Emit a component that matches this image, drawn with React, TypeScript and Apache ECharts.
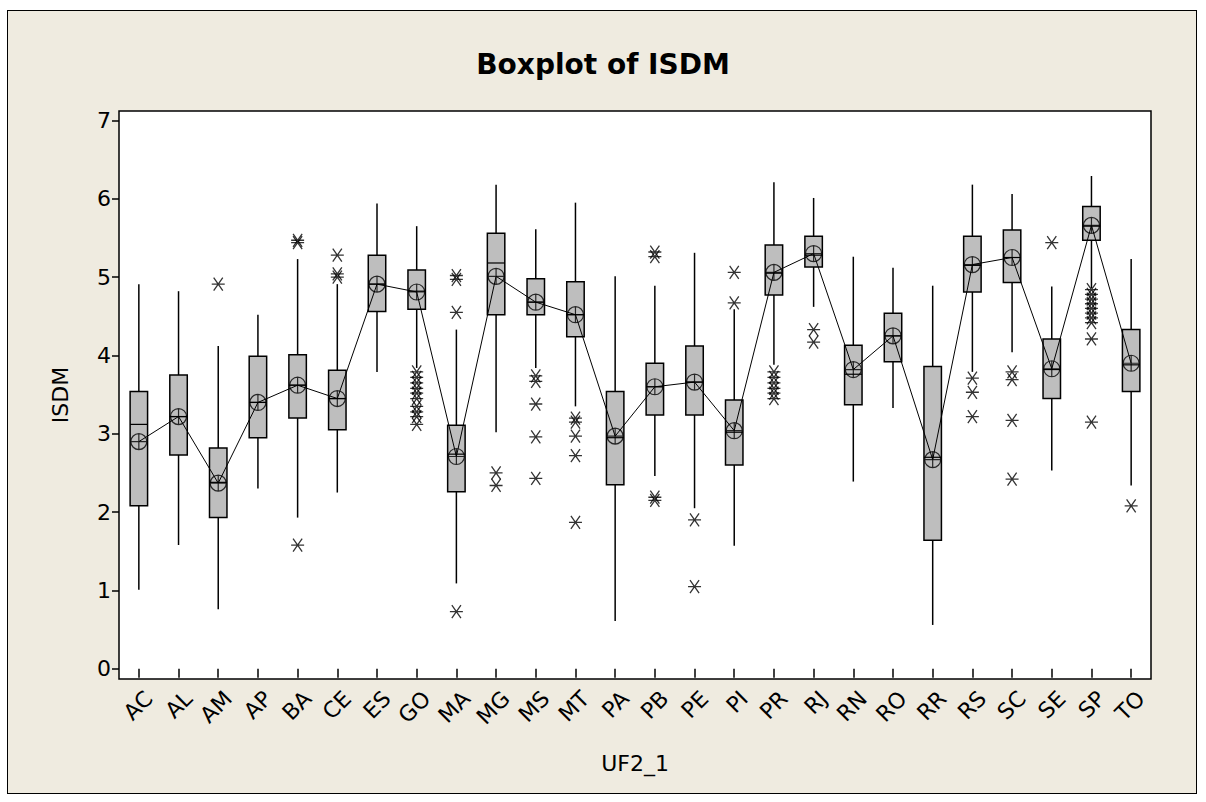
import React, { useEffect, useRef } from "react";
import * as echarts from "echarts";

const categories = ["AC","AL","AM","AP","BA","CE","ES","GO","MA","MG","MS","MT","PA","PB","PE","PI","PR","RJ","RN","RO","RR","RS","SC","SE","SP","TO"];
const whiskerLow = [1.01,1.58,0.76,2.30,1.93,2.25,3.79,3.84,1.09,3.02,3.84,3.35,0.61,2.46,2.05,1.57,3.88,4.62,2.39,3.33,0.56,3.79,4.04,2.53,4.86,2.34];
const q1 = [2.08,2.73,1.93,2.95,3.20,3.05,4.56,4.59,2.26,4.52,4.52,4.24,2.35,3.24,3.24,2.60,4.77,5.13,3.37,3.92,1.64,4.81,4.93,3.45,5.47,3.54];
const median = [3.12,3.22,2.38,3.40,3.62,3.45,4.91,4.82,2.74,5.18,4.68,4.52,2.95,3.60,3.66,3.02,5.05,5.28,3.76,4.25,2.70,5.15,5.25,3.82,5.65,3.88];
const q3 = [3.54,3.75,2.82,3.99,4.01,3.81,5.28,5.09,3.11,5.56,4.98,4.94,3.54,3.90,4.12,3.43,5.41,5.52,4.13,4.54,3.86,5.52,5.60,4.21,5.90,4.33];
const whiskerHigh = [4.91,4.82,4.12,4.52,5.23,4.91,5.94,5.65,4.33,6.18,5.61,5.95,5.01,4.89,5.31,4.59,6.21,6.01,5.26,5.12,4.89,6.18,6.06,4.88,6.29,5.23];
const means = [2.90,3.22,2.37,3.40,3.62,3.45,4.91,4.81,2.71,5.01,4.68,4.52,2.97,3.60,3.66,3.04,5.06,5.30,3.82,4.25,2.67,5.16,5.25,3.83,5.66,3.90];
const outliers: number[][] = [
  [],
  [],
  [4.91],
  [],
  [5.47,5.44,1.58],
  [5.28,5.04,5.00],
  [],
  [3.79,3.72,3.65,3.58,3.52,3.45,3.35,3.28,3.22,3.12],
  [5.02,4.97,4.55,0.73],
  [2.50,2.34],
  [3.74,3.67,3.38,2.96,2.43],
  [3.20,3.15,2.97,2.72,1.87],
  [],
  [5.32,5.26,2.19,2.15],
  [1.90,1.05],
  [5.06,4.67],
  [3.79,3.72,3.65,3.58,3.52,3.45],
  [4.33,4.17],
  [],
  [],
  [],
  [3.71,3.53,3.22],
  [3.79,3.69,3.17,2.42],
  [5.44],
  [4.84,4.78,4.72,4.66,4.60,4.54,4.48,4.42,4.21,3.15],
  [2.08],
];
const yTicks = [0,1,2,3,4,5,6,7];

const FONT = "DejaVu Sans";
const MEAN_SYMBOL = "path://M0,8A8,8 0 1 1 16,8A8,8 0 1 1 0,8Z M0,8L16,8 M8,0L8,16";
const STAR_SYMBOL = "path://M0,5L10,5 M1.5,1.5L8.5,8.5 M8.5,1.5L1.5,8.5";

export default function App() {
  const ref = useRef<HTMLDivElement>(null);
  useEffect(() => {
    if (!ref.current) return;
    const chart = echarts.init(ref.current, null, { renderer: "svg" });
    const boxData = categories.map((_, i) => [i, whiskerLow[i], q1[i], median[i], q3[i], whiskerHigh[i]]);
    const outlierData: number[][] = [];
    outliers.forEach((list, i) => list.forEach((v) => outlierData.push([i, v])));

    chart.setOption({
      animation: false,
      backgroundColor: "transparent",
      title: {
        text: "Boxplot of ISDM",
        left: "center",
        top: 45,
        textStyle: { fontFamily: FONT, fontSize: 28, fontWeight: "bold", color: "#000" },
      },
      grid: {
        left: 119,
        top: 111,
        width: 1032,
        height: 568,
        show: true,
        backgroundColor: "#fff",
        borderColor: "#000",
        borderWidth: 1.5,
      },
      xAxis: {
        type: "category",
        data: categories,
        boundaryGap: true,
        name: "UF2_1",
        nameLocation: "middle",
        nameGap: 73,
        nameTextStyle: { fontFamily: FONT, fontSize: 22, color: "#000" },
        axisLine: { show: false },
        axisTick: { show: true, alignWithLabel: true, length: 9, lineStyle: { color: "#000", width: 1.5 } },
        axisLabel: {
          rotate: 45,
          interval: 0,
          margin: 6,
          lineHeight: 28,
          formatter: (v: string) => "\n" + v,
          fontFamily: FONT,
          fontSize: 22,
          color: "#000",
        },
        splitLine: { show: false },
      },
      yAxis: {
        type: "value",
        min: -0.13,
        max: 7.12,
        name: "ISDM",
        nameLocation: "middle",
        nameGap: 48,
        nameTextStyle: { fontFamily: FONT, fontSize: 22, color: "#000" },
        axisLine: { show: false },
        axisTick: { show: true, length: 7, customValues: yTicks, lineStyle: { color: "#000", width: 1.5 } },
        axisLabel: { customValues: yTicks, margin: 8, fontFamily: FONT, fontSize: 22, color: "#000" },
        splitLine: { show: false },
      },
      series: [
        {
          type: "custom",
          silent: true,
          data: boxData,
          encode: { x: 0, y: [1, 2, 3, 4, 5] },
          renderItem: (_params: any, api: any) => {
            const x = api.value(0);
            const pLow = api.coord([x, api.value(1)]);
            const pQ1 = api.coord([x, api.value(2)]);
            const pMed = api.coord([x, api.value(3)]);
            const pQ3 = api.coord([x, api.value(4)]);
            const pHigh = api.coord([x, api.value(5)]);
            const w = api.size([1, 0])[0] * 0.44;
            const cx = pQ1[0];
            const lineStyle = { stroke: "#000", lineWidth: 1.5 };
            return {
              type: "group",
              children: [
                { type: "line", shape: { x1: cx, y1: pHigh[1], x2: cx, y2: pQ3[1] }, style: lineStyle },
                { type: "line", shape: { x1: cx, y1: pQ1[1], x2: cx, y2: pLow[1] }, style: lineStyle },
                {
                  type: "rect",
                  shape: { x: cx - w / 2, y: pQ3[1], width: w, height: pQ1[1] - pQ3[1] },
                  style: { fill: "#BEBEBE", stroke: "#000", lineWidth: 1.5 },
                },
                { type: "line", shape: { x1: cx - w / 2, y1: pMed[1], x2: cx + w / 2, y2: pMed[1] }, style: { stroke: "#000", lineWidth: 1.2 } },
              ],
            };
          },
          z: 2,
        },
        {
          type: "line",
          silent: true,
          data: means,
          showSymbol: false,
          symbol: "none",
          lineStyle: { color: "#000", width: 1 },
          z: 3,
        },
        {
          type: "scatter",
          silent: true,
          data: means.map((v, i) => [i, v]),
          symbol: MEAN_SYMBOL,
          symbolSize: 16,
          itemStyle: { color: "rgba(0,0,0,0)", borderColor: "#000", borderWidth: 1.2 },
          z: 4,
        },
        {
          type: "scatter",
          silent: true,
          data: outlierData,
          symbol: STAR_SYMBOL,
          symbolSize: 13,
          itemStyle: { color: "rgba(0,0,0,0)", borderColor: "#000", borderWidth: 1.3 },
          z: 4,
        },
      ],
    });
    return () => chart.dispose();
  }, []);

  return (
    <div style={{ position: "fixed", left: 0, top: 0, width: 1206, height: 802, background: "#fff" }}>
      <div
        style={{
          position: "absolute",
          left: 7,
          top: 10,
          width: 1190,
          height: 784,
          background: "#EFEBE0",
          border: "1.5px solid #000",
          boxSizing: "border-box",
        }}
      />
      <div ref={ref} style={{ position: "absolute", left: 0, top: 0, width: 1206, height: 802 }} />
    </div>
  );
}
